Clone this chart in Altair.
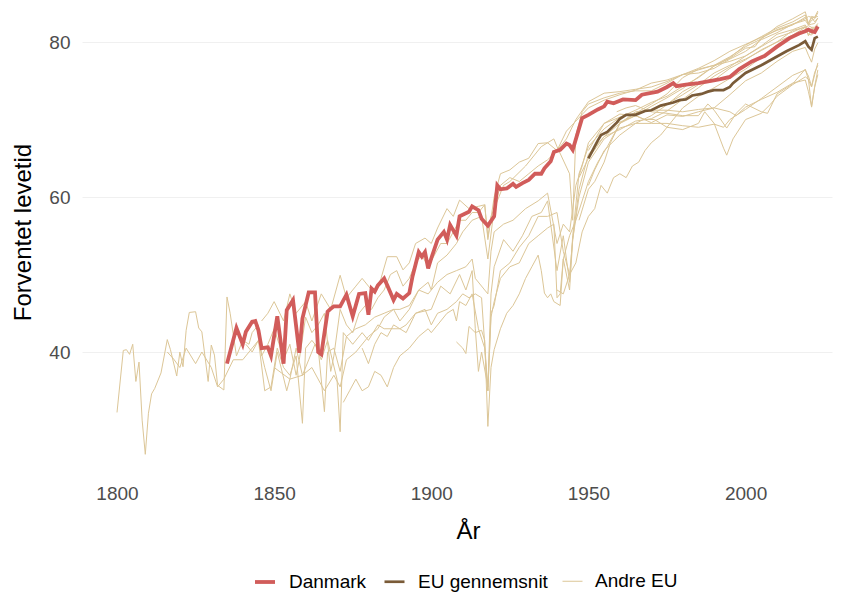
import altair as alt
import pandas as pd

# ---------------- data ----------------
DK_YEARS = [1835, 1838, 1840, 1841, 1843, 1844, 1845, 1846, 1848, 1849, 1851, 1853, 1854, 1856, 1858,
            1859, 1861, 1863, 1864, 1865, 1867, 1868, 1869, 1871, 1873, 1875, 1877, 1879, 1880, 1881,
            1882, 1883, 1885, 1886, 1888, 1889, 1891, 1893, 1894, 1896, 1897, 1898, 1899, 1900, 1902,
            1904, 1905, 1906, 1907, 1908, 1909, 1912, 1913, 1915, 1916, 1918, 1920, 1921, 1922, 1924,
            1926, 1927, 1929, 1931, 1933, 1935, 1936, 1938, 1939, 1941, 1943, 1944, 1945, 1948, 1950,
            1953, 1955, 1956, 1958, 1961, 1965, 1967, 1972, 1975, 1977, 1978, 1981, 1985, 1989, 1992,
            1995, 1998, 2002, 2006, 2010, 2014, 2017, 2019, 2020, 2021, 2022, 2023]
DK_VALUES = [38.5, 43.1, 41.0, 42.6, 43.9, 44.0, 42.8, 40.5, 40.6, 39.5, 44.6, 38.5, 45.4, 46.7, 39.9,
             44.3, 47.7, 47.7, 40.0, 39.7, 45.2, 45.6, 45.9, 45.9, 47.4, 44.6, 47.5, 47.6, 44.8, 48.2,
             47.8, 48.6, 49.5, 48.6, 46.7, 47.5, 46.9, 47.6, 49.7, 52.9, 52.3, 52.9, 50.8, 52.1, 54.5,
             55.5, 54.5, 56.4, 55.7, 55.0, 57.5, 58.1, 58.8, 58.3, 57.2, 56.3, 57.5, 61.5, 61.0, 61.1,
             61.7, 61.3, 61.8, 62.2, 63.0, 63.0, 63.7, 64.6, 65.8, 66.1, 66.9, 66.7, 66.1, 70.2, 70.6,
             71.3, 71.7, 72.3, 72.1, 72.6, 72.5, 73.2, 73.6, 74.2, 74.7, 74.3, 74.5, 74.7, 75.0, 75.2,
             75.5, 76.5, 77.5, 78.2, 79.4, 80.5, 81.1, 81.4, 81.6, 81.4, 81.3, 82.0]

EU_YEARS = [1950, 1953, 1954, 1956, 1959, 1960, 1962, 1965, 1968, 1970, 1973, 1977, 1979, 1981, 1983,
            1986, 1988, 1990, 1993, 1995, 1996, 2000, 2005, 2009, 2013, 2017, 2019, 2020, 2021, 2022, 2023]
EU_VALUES = [65.0, 67.3, 68.0, 68.4, 69.6, 70.1, 70.6, 70.6, 71.1, 71.2, 71.8, 72.2, 72.5, 72.6, 73.1,
             73.3, 73.6, 73.8, 73.8, 74.2, 74.7, 76.0, 77.0, 77.9, 78.8, 79.6, 80.1, 79.4, 79.0, 80.5, 80.7]

SE_YEARS = [1800, 1802, 1803, 1804, 1805, 1806, 1807, 1808, 1809, 1810, 1811, 1812, 1814, 1816, 1817,
            1819, 1820, 1821, 1822, 1823, 1825, 1826, 1827, 1829, 1830, 1831, 1832, 1834, 1835, 1836,
            1838, 1840, 1842, 1843, 1845, 1846, 1848, 1850, 1852, 1853, 1855, 1857, 1858, 1860, 1862,
            1864, 1866, 1868, 1869, 1871, 1873, 1875, 1877, 1879, 1881, 1883, 1885, 1887, 1889, 1891,
            1893, 1895, 1897, 1899, 1901, 1903, 1905, 1907, 1909, 1911, 1913, 1915, 1917, 1918, 1919,
            1920, 1922, 1925, 1928, 1931, 1934, 1937, 1940, 1943, 1946, 1950, 1955, 1960, 1965, 1970,
            1975, 1980, 1985, 1990, 1995, 2000, 2005, 2010, 2015, 2019, 2020, 2021, 2023]
SE_VALUES = [32.2, 40.2, 40.3, 39.7, 41.0, 36.2, 38.7, 31.2, 26.8, 32.1, 34.6, 35.3, 37.3, 41.6, 40.3,
             36.9, 40.0, 38.1, 42.8, 45.1, 45.2, 43.1, 42.6, 36.2, 40.9, 39.6, 35.7, 35.1, 47.1, 45.0,
             39.5, 41.5, 41.0, 42.5, 43.5, 39.5, 41.0, 43.0, 40.5, 39.0, 41.0, 37.0, 39.0, 44.5, 42.5,
             43.5, 45.0, 37.5, 39.5, 45.5, 43.5, 42.5, 45.0, 46.0, 45.5, 47.0, 48.0, 50.0, 50.5, 48.5,
             49.5, 51.5, 52.5, 51.0, 52.5, 54.0, 54.0, 55.5, 57.0, 57.0, 58.0, 58.0, 59.0, 54.8, 57.5,
             58.5, 61.5, 62.5, 62.0, 63.0, 64.0, 64.8, 66.0, 68.5, 69.8, 71.5, 72.5, 73.2, 73.8, 74.7,
             75.1, 75.8, 76.6, 77.6, 78.8, 79.7, 80.6, 81.5, 82.2, 83.2, 82.4, 83.1, 83.3]

FR_YEARS = [1816, 1818, 1820, 1822, 1825, 1827, 1830, 1832, 1834, 1837, 1840, 1842, 1845, 1847, 1849,
            1851, 1854, 1855, 1857, 1859, 1861, 1863, 1865, 1867, 1870, 1871, 1872, 1875, 1878, 1880,
            1883, 1885, 1890, 1892, 1895, 1900, 1903, 1906, 1909, 1911, 1913, 1914, 1915, 1916, 1918,
            1919, 1920, 1923, 1926, 1929, 1932, 1935, 1937, 1940, 1942, 1944, 1945, 1947, 1950, 1955,
            1960, 1965, 1970, 1975, 1980, 1985, 1990, 1995, 2000, 2003, 2005, 2010, 2015, 2019, 2020,
            2021, 2022, 2023]
FR_VALUES = [40.0, 39.1, 38.0, 40.5, 38.5, 40.0, 38.0, 35.5, 36.5, 39.0, 39.0, 40.0, 41.5, 38.0, 35.0,
             40.0, 35.0, 36.5, 40.5, 37.0, 39.0, 41.0, 39.0, 41.5, 36.5, 29.7, 42.5, 41.0, 42.5, 41.5,
             43.5, 43.0, 43.0, 43.5, 45.0, 45.5, 48.5, 47.5, 50.0, 48.0, 50.5, 43.0, 37.5, 40.0, 35.5,
             47.5, 51.0, 54.5, 53.0, 55.0, 57.5, 58.0, 59.5, 50.5, 55.0, 49.0, 55.0, 63.0, 66.5, 68.8,
             70.3, 71.2, 72.2, 73.0, 74.3, 75.4, 76.9, 77.9, 79.2, 79.4, 80.5, 81.6, 82.3, 82.8, 82.2,
             82.3, 82.4, 83.1]

NO_YEARS = [1846, 1848, 1850, 1853, 1855, 1857, 1860, 1862, 1865, 1868, 1871, 1873, 1876, 1878, 1880,
            1882, 1884, 1886, 1889, 1891, 1893, 1895, 1898, 1900, 1902, 1905, 1907, 1909, 1912, 1915,
            1917, 1918, 1920, 1922, 1925, 1928, 1931, 1934, 1937, 1940, 1943, 1946, 1950, 1955, 1960,
            1965, 1970, 1975, 1980, 1985, 1990, 1995, 2000, 2005, 2010, 2015, 2019, 2020, 2021, 2022, 2023]
NO_VALUES = [44.0, 45.0, 46.5, 44.0, 47.5, 45.0, 46.5, 44.0, 47.5, 45.5, 49.9, 47.0, 48.5, 49.5, 48.5,
             47.5, 49.5, 52.3, 52.3, 50.6, 51.5, 54.0, 54.7, 54.0, 56.0, 58.5, 57.5, 59.6, 58.5, 58.8,
             59.0, 54.5, 60.0, 63.0, 63.5, 64.5, 65.0, 66.9, 67.0, 66.0, 67.5, 70.0, 72.3, 73.4, 73.6,
             73.9, 74.2, 74.9, 75.8, 76.0, 76.6, 77.8, 78.8, 80.3, 81.2, 82.3, 83.0, 83.3, 83.2, 82.6, 83.1]

NL_YEARS = [1850, 1855, 1859, 1862, 1866, 1869, 1871, 1873, 1876, 1880, 1883, 1885, 1888, 1890, 1893,
            1896, 1899, 1900, 1902, 1905, 1908, 1910, 1913, 1916, 1918, 1920, 1923, 1925, 1930, 1935,
            1939, 1940, 1944, 1945, 1946, 1948, 1950, 1955, 1960, 1965, 1970, 1975, 1980, 1985, 1990,
            1995, 2000, 2005, 2010, 2015, 2019, 2020, 2021, 2022, 2023]
NL_VALUES = [38.0, 36.5, 37.0, 38.0, 35.0, 37.0, 35.5, 39.0, 40.0, 42.0, 43.0, 44.5, 45.5, 45.5, 46.0,
             48.0, 49.0, 48.0, 51.5, 52.5, 54.0, 55.5, 57.0, 57.5, 52.0, 58.5, 61.5, 62.0, 64.0, 66.5,
             67.5, 66.5, 63.0, 57.0, 68.0, 71.0, 72.0, 72.8, 73.4, 73.7, 73.7, 74.7, 75.8, 76.4, 77.0,
             77.5, 78.2, 79.5, 81.0, 81.6, 82.2, 81.5, 81.6, 81.8, 82.2]

BE_YEARS = [1841, 1843, 1845, 1847, 1849, 1851, 1853, 1855, 1857, 1859, 1860, 1862, 1864, 1866, 1867,
            1869, 1871, 1873, 1876, 1879, 1882, 1885, 1888, 1890, 1893, 1896, 1899, 1902, 1905, 1908,
            1911, 1913, 1914, 1918, 1919, 1920, 1923, 1926, 1930, 1934, 1937, 1940, 1942, 1944, 1946,
            1948, 1950, 1955, 1960, 1965, 1970, 1975, 1980, 1985, 1990, 1995, 2000, 2005, 2010, 2015,
            2019, 2020, 2021, 2022, 2023]
BE_VALUES = [41.0, 40.0, 41.5, 35.0, 35.5, 40.5, 38.0, 37.0, 39.5, 30.8, 40.5, 41.5, 40.5, 32.3, 40.0,
             40.5, 37.5, 42.0, 43.0, 43.5, 44.5, 45.0, 45.5, 44.0, 45.5, 48.0, 47.5, 49.0, 50.0, 50.5,
             51.0, 52.0, 49.5, 47.5, 53.0, 55.5, 56.5, 57.0, 58.5, 59.5, 60.5, 54.0, 56.5, 55.5, 61.5,
             64.0, 67.0, 69.5, 70.3, 70.8, 71.2, 72.0, 73.2, 74.5, 76.0, 77.0, 77.8, 78.9, 80.0, 80.9,
             81.9, 80.8, 81.9, 81.9, 82.4]

IT_YEARS = [1872, 1874, 1876, 1878, 1880, 1882, 1884, 1886, 1888, 1890, 1893, 1896, 1899, 1900, 1903,
            1905, 1907, 1908, 1909, 1911, 1913, 1915, 1917, 1918, 1919, 1920, 1922, 1925, 1928, 1931,
            1934, 1937, 1940, 1942, 1944, 1945, 1947, 1950, 1955, 1960, 1965, 1970, 1975, 1980, 1985,
            1990, 1995, 2000, 2005, 2010, 2015, 2019, 2020, 2021, 2022, 2023]
IT_VALUES = [33.5, 35.0, 36.5, 35.0, 35.5, 37.5, 37.0, 35.5, 38.0, 39.5, 40.5, 42.0, 43.0, 42.5, 44.0,
             45.0, 45.5, 44.0, 46.5, 46.0, 47.5, 43.0, 40.5, 35.0, 45.0, 46.0, 50.5, 51.5, 53.5, 55.0,
             57.5, 57.5, 58.0, 53.0, 50.0, 54.5, 61.0, 65.5, 67.8, 69.5, 70.5, 71.7, 72.8, 74.0, 75.5,
             76.9, 78.0, 79.6, 80.7, 81.8, 82.6, 83.5, 82.2, 82.8, 83.0, 83.8]

ES_YEARS = [1908, 1910, 1911, 1912, 1914, 1916, 1917, 1918, 1919, 1920, 1922, 1924, 1926, 1928, 1930,
            1932, 1934, 1935, 1936, 1937, 1938, 1939, 1941, 1942, 1944, 1946, 1948, 1950, 1953, 1956,
            1960, 1965, 1970, 1975, 1980, 1985, 1990, 1995, 2000, 2005, 2010, 2015, 2019, 2020, 2021,
            2022, 2023]
ES_VALUES = [41.3, 40.5, 39.8, 43.3, 42.5, 42.8, 41.5, 30.4, 38.0, 40.3, 43.0, 45.0, 46.0, 47.5, 49.5,
             51.0, 52.5, 50.5, 47.6, 47.0, 47.5, 46.5, 46.0, 52.0, 55.0, 57.0, 59.5, 62.0, 64.5, 66.5,
             69.5, 70.8, 72.0, 73.3, 75.4, 76.5, 77.0, 78.1, 79.4, 80.4, 82.0, 83.0, 83.9, 82.4, 83.3,
             83.2, 84.0]

FI_YEARS = [1878, 1880, 1882, 1884, 1886, 1888, 1890, 1892, 1895, 1898, 1900, 1902, 1905, 1908, 1910,
            1912, 1914, 1916, 1918, 1919, 1920, 1922, 1925, 1928, 1931, 1934, 1937, 1939, 1940, 1941,
            1942, 1944, 1945, 1947, 1950, 1955, 1960, 1965, 1970, 1975, 1980, 1985, 1990, 1995, 2000,
            2005, 2010, 2015, 2019, 2020, 2021, 2022, 2023]
FI_VALUES = [40.5, 38.5, 41.0, 42.5, 42.0, 43.5, 43.0, 42.5, 45.0, 45.5, 43.5, 45.0, 45.5, 46.5, 47.5,
             47.0, 47.5, 47.0, 35.0, 44.5, 46.5, 49.5, 51.0, 51.5, 54.0, 55.0, 56.0, 56.5, 47.0, 47.5,
             52.0, 48.0, 54.5, 60.0, 64.5, 67.5, 68.9, 69.5, 70.5, 71.9, 73.6, 74.7, 75.1, 76.6, 77.7,
             79.0, 80.0, 81.5, 81.9, 82.1, 81.9, 81.2, 81.8]

PT_YEARS = [1940, 1942, 1944, 1946, 1948, 1950, 1952, 1954, 1956, 1958, 1960, 1962, 1964, 1966, 1968,
            1970, 1973, 1976, 1980, 1985, 1990, 1995, 2000, 2005, 2010, 2015, 2019, 2020, 2021, 2022, 2023]
PT_VALUES = [48.0, 47.5, 50.0, 51.5, 55.5, 57.5, 58.5, 61.5, 60.5, 62.5, 63.0, 62.5, 64.0, 64.5, 66.0,
             67.0, 68.0, 69.5, 71.5, 73.0, 74.1, 75.3, 76.5, 78.0, 79.6, 80.7, 81.6, 81.0, 80.9, 81.4, 82.0]

AT_YEARS = [1947, 1950, 1955, 1960, 1965, 1970, 1975, 1980, 1985, 1990, 1995, 2000, 2005, 2010, 2015,
            2019, 2020, 2021, 2022, 2023]
AT_VALUES = [62.5, 65.0, 67.8, 68.7, 69.8, 70.1, 71.1, 72.6, 74.1, 75.6, 76.8, 78.2, 79.4, 80.6, 81.3,
             82.0, 81.4, 81.1, 81.3, 81.9]

HU_YEARS = [1950, 1952, 1955, 1960, 1965, 1970, 1975, 1980, 1985, 1990, 1993, 1995, 2000, 2005, 2010,
            2015, 2019, 2020, 2021, 2022, 2023]
HU_VALUES = [61.5, 63.5, 66.0, 68.0, 69.5, 69.5, 69.5, 69.2, 69.0, 69.4, 69.0, 70.0, 71.3, 72.7, 74.2,
             75.7, 76.4, 75.6, 74.3, 76.1, 77.0]

LV_YEARS = [1959, 1962, 1965, 1968, 1971, 1975, 1980, 1985, 1987, 1990, 1993, 1994, 1996, 2000, 2005,
            2008, 2010, 2015, 2019, 2020, 2021, 2022, 2023]
LV_VALUES = [69.5, 70.0, 70.5, 70.0, 70.0, 69.0, 68.7, 69.5, 71.0, 69.5, 66.3, 65.4, 67.5, 70.0, 70.8,
             72.0, 73.0, 74.5, 75.5, 75.2, 71.6, 74.3, 76.4]

LT_YEARS = [1959, 1962, 1965, 1970, 1975, 1980, 1985, 1988, 1990, 1994, 1997, 2000, 2005, 2007, 2010,
            2015, 2019, 2020, 2021, 2022, 2023]
LT_VALUES = [71.0, 71.5, 71.8, 71.0, 70.8, 70.5, 70.5, 72.0, 71.2, 68.9, 70.8, 72.0, 71.0, 70.8, 73.3,
             74.6, 76.5, 75.1, 74.2, 75.8, 77.3]

CZ_YEARS = [1950, 1955, 1960, 1965, 1970, 1975, 1980, 1985, 1990, 1995, 2000, 2005, 2010, 2015, 2019,
            2020, 2021, 2022, 2023]
CZ_VALUES = [66.0, 69.5, 70.7, 70.5, 69.6, 70.6, 70.4, 71.0, 71.5, 73.2, 75.0, 76.0, 77.5, 78.8, 79.3,
             78.3, 77.4, 79.1, 79.9]

BG_YEARS = [1947, 1950, 1952, 1955, 1957, 1960, 1965, 1970, 1975, 1980, 1985, 1990, 1995, 1997, 2000,
            2005, 2010, 2015, 2019, 2020, 2021, 2022, 2023]
BG_VALUES = [57.0, 61.0, 62.0, 64.5, 67.0, 69.5, 71.0, 71.2, 71.2, 71.0, 71.3, 71.5, 71.0, 70.5, 71.6,
             72.6, 73.5, 74.7, 75.1, 73.6, 71.7, 74.2, 75.8]

GROUPS = ["Danmark", "EU gennemsnit", "Andre EU"]
COLORS = ["#d15c5a", "#7a5b38", "#dcc697"]
WIDTHS = [3.8, 2.7, 1.0]

OTHERS = {
    "Sverige": (SE_YEARS, SE_VALUES), "Frankrig": (FR_YEARS, FR_VALUES),
    "Norge": (NO_YEARS, NO_VALUES), "Holland": (NL_YEARS, NL_VALUES),
    "Belgien": (BE_YEARS, BE_VALUES), "Italien": (IT_YEARS, IT_VALUES),
    "Spanien": (ES_YEARS, ES_VALUES), "Finland": (FI_YEARS, FI_VALUES),
    "Portugal": (PT_YEARS, PT_VALUES), "Østrig": (AT_YEARS, AT_VALUES),
    "Ungarn": (HU_YEARS, HU_VALUES), "Letland": (LV_YEARS, LV_VALUES),
    "Litauen": (LT_YEARS, LT_VALUES), "Tjekkiet": (CZ_YEARS, CZ_VALUES),
    "Bulgarien": (BG_YEARS, BG_VALUES),
}

rows = []
for name, (ys, vs) in OTHERS.items():
    for y, v in zip(ys, vs):
        rows.append({"land": name, "gruppe": "Andre EU", "aar": y, "levetid": v})
for y, v in zip(EU_YEARS, EU_VALUES):
    rows.append({"land": "EU", "gruppe": "EU gennemsnit", "aar": y, "levetid": v})
for y, v in zip(DK_YEARS, DK_VALUES):
    rows.append({"land": "Danmark", "gruppe": "Danmark", "aar": y, "levetid": v})
df = pd.DataFrame(rows)

FONT = "Liberation Sans"

x_enc = alt.X("aar:Q",
              scale=alt.Scale(domain=[1788.86, 2027.5], nice=False, zero=False),
              axis=alt.Axis(values=[1800, 1850, 1900, 1950, 2000], format="d", title="År",
                            grid=False, domain=False, ticks=False, labelPadding=8,
                            labelFontSize=19, labelColor="#4d4d4d", labelFont=FONT,
                            titleFontSize=24, titleFontWeight="normal", titleColor="#000000",
                            titleFont=FONT, titleX=386, titleY=62, titleAlign="center",
                            titleBaseline="alphabetic"))
y_enc = alt.Y("levetid:Q",
              scale=alt.Scale(domain=[24.0, 84.39], nice=False, zero=False),
              axis=alt.Axis(values=[40, 60, 80], title="Forventet levetid", grid=True,
                            gridColor="#f0f0f0", gridWidth=1, domain=False, ticks=False,
                            labelPadding=12, labelFontSize=19, labelColor="#4d4d4d",
                            labelFont=FONT, titleFontSize=24, titleFontWeight="normal",
                            titleColor="#000000", titleFont=FONT, titleAngle=-90,
                            titleX=-52, titleY=224, titleAlign="center",
                            titleBaseline="alphabetic"))
LEG = dict(orient="none", legendX=171, legendY=562, direction="horizontal", title=None,
           symbolType="stroke", symbolSize=400, labelFontSize=19, labelFont=FONT,
           labelColor="#000000", labelOffset=12, columnPadding=12, padding=0)
color_enc = alt.Color("gruppe:N", scale=alt.Scale(domain=GROUPS, range=COLORS),
                      legend=alt.Legend(**LEG))
width_enc = alt.StrokeWidth("gruppe:N",
                            scale=alt.Scale(type="ordinal", domain=GROUPS, range=WIDTHS),
                            legend=alt.Legend(**LEG))

base = alt.Chart(df)
layers = []
for g in ["Andre EU", "EU gennemsnit", "Danmark"]:
    layers.append(
        base.transform_filter(alt.datum.gruppe == g).mark_line(clip=True).encode(
            x=x_enc, y=y_enc, color=color_enc, strokeWidth=width_enc,
            detail="land:N", order="aar:Q"))

chart = alt.layer(*layers).properties(
    width=750, height=468,
    autosize=alt.AutoSizeParams(type="none"),
    padding={"left": 74, "top": 0, "right": 2, "bottom": 118},
).configure(font=FONT).configure_view(stroke=None)

chart.save("out.html", embed_options={"renderer": "svg", "actions": False})
